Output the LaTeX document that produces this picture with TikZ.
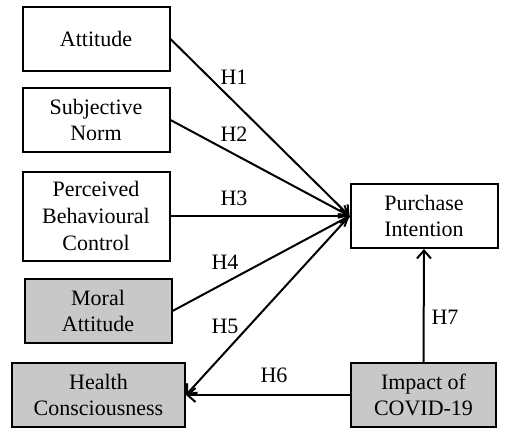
\documentclass[tikz,border=0pt]{standalone}
\usepackage{fontspec}
\setmainfont{Liberation Serif}
\usetikzlibrary{arrows.meta}
\definecolor{boxgray}{RGB}{200,200,200}

\begin{document}
\begin{tikzpicture}[
    >={Straight Barb[length=4pt,width=7pt]},
    x=0.5pt,
    y=-0.5pt,
    construct/.style={draw, line width=1pt, align=center, inner sep=0pt,
        font=\fontsize{11pt}{13.3pt}\selectfont, minimum width=73.5pt, minimum height=32pt},
    shaded/.style={construct, fill=boxgray},
    link/.style={->, line width=1pt},
    hyp/.style={font=\fontsize{11pt}{13pt}\selectfont}
]

% 1. Canvas
\useasboundingbox (0,0) rectangle (509,439);

% 2. Constructs (left column)
\node[construct] (att) at (96,39) {Attitude};
\node[construct] (norm) at (96,120) {Subjective\\Norm};
\node[construct, minimum height=44.5pt] (pbc) at (96,216) {Perceived\\Behavioural\\Control};
\node[shaded] (moral) at (98,311) {Moral\\Attitude};
\node[shaded, minimum width=86.5pt] (health) at (98.5,395) {Health\\Consciousness};

% 3. Constructs (right column)
\node[construct] (intent) at (424,216) {Purchase\\Intention};
\node[shaded, minimum width=72.5pt] (covid) at (423.5,395) {Impact of\\COVID-19};

% 4. Hypothesised paths
\draw[link] (att.east) -- (intent.west);
\draw[link] (norm.east) -- (intent.west);
\draw[link] (pbc.east) -- (intent.west);
\draw[link] (moral.east) -- (intent.west);
\draw[link] (intent.west) -- (health.east);
\draw[link] (covid.west) -- (health.east);
\draw[link] (covid.north) -- (intent.south);

% 5. Path labels
\node[hyp] (h1) at (234,77) {H1};
\node[hyp] (h2) at (234,134) {H2};
\node[hyp] (h3) at (234,198) {H3};
\node[hyp] (h4) at (225,262) {H4};
\node[hyp] (h5) at (225,326) {H5};
\node[hyp] (h6) at (274,375) {H6};
\node[hyp] (h7) at (445,317) {H7};

\end{tikzpicture}
\end{document}
